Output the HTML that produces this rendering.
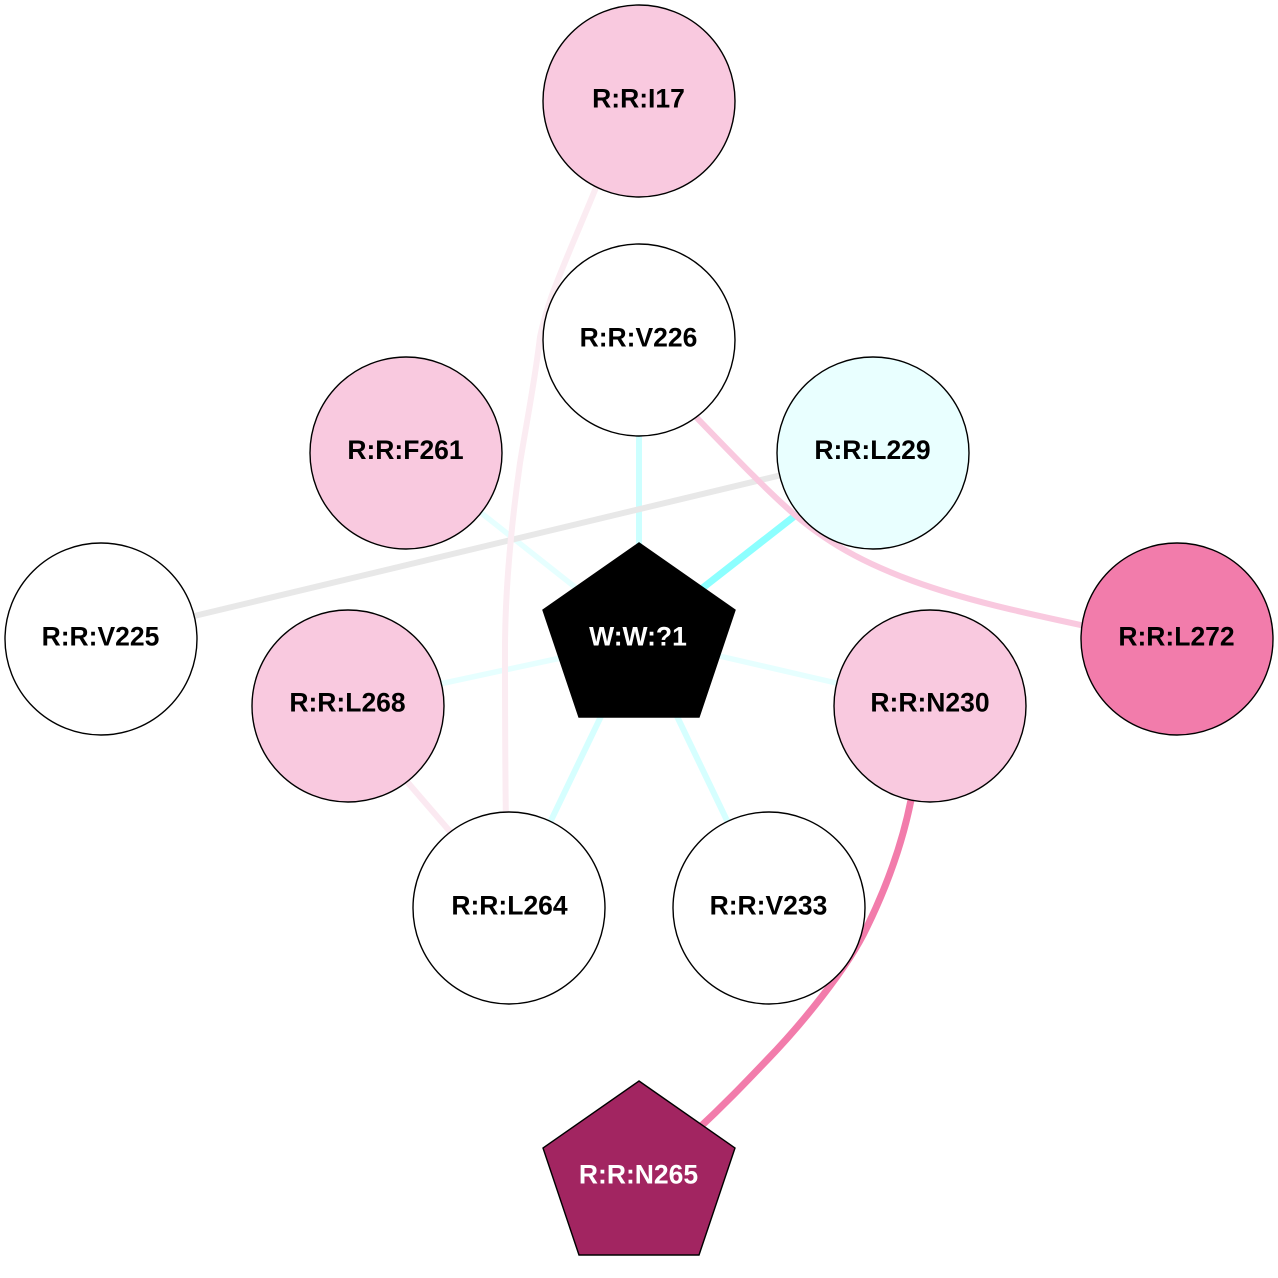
<!DOCTYPE html>
<html>
<head>
<meta charset="utf-8">
<style>
html,body{margin:0;padding:0;background:#fff;width:1278px;height:1278px;overflow:hidden}
svg{display:block}
text{font-family:"Liberation Sans",Arial,sans-serif;font-weight:bold;font-size:26.5px;text-anchor:middle}
circle,polygon{stroke:#000;stroke-width:1.4}
path{fill:none}
</style>
</head>
<body>
<svg width="1278" height="1278" viewBox="0 0 1278 1278">
<g fill="none">
<path d="M639 430 L639 550" stroke="#ccffff" stroke-width="6"/>
<path d="M810 504 L700 590" stroke="#8cffff" stroke-width="7"/>
<path d="M475 508 L585 595" stroke="#e6ffff" stroke-width="5.5"/>
<path d="M435 685 L570 656" stroke="#e6ffff" stroke-width="5.5"/>
<path d="M715 655 L845 685" stroke="#e6ffff" stroke-width="5.5"/>
<path d="M605 708 L545 833" stroke="#d6ffff" stroke-width="6"/>
<path d="M673 708 L732 831" stroke="#d6ffff" stroke-width="6"/>
<path d="M790 473 L190 617" stroke="#e8e8e8" stroke-width="6"/>
<path d="M403 777 L453 835" stroke="#fbe9f1" stroke-width="6"/>
<path d="M600 178 L595 190 C582 222 563 265 552 295 C547 310 543 322 540 337 C535 380 527 420 520 463 C512 520 505 590 505 650 C505 700 505 760 506 825" stroke="#fbecf2" stroke-width="6"/>
<path d="M690 411 L697 418 C730 452 763 487 795 515 C835 549 875 567 913 581 C968 601 1025 613 1090 627" stroke="#f9c9df" stroke-width="6"/>
<path d="M913 790 L911 800 C902 845 885 890 867 927 C848 968 800 1026 767 1060 C745 1083 725 1104 697 1130" stroke="#f27cab" stroke-width="7"/>
</g>

<circle cx="639" cy="101" r="96" fill="#f9c9df"/>
<circle cx="639" cy="340" r="96" fill="#fff"/>
<circle cx="406" cy="453" r="96" fill="#f9c9df"/>
<circle cx="873" cy="453" r="96" fill="#e9ffff"/>
<circle cx="101" cy="639" r="96" fill="#fff"/>
<circle cx="348" cy="706" r="96" fill="#f9c9df"/>
<circle cx="930" cy="706" r="96" fill="#f9c9df"/>
<circle cx="1177" cy="639" r="96" fill="#f27cab"/>
<circle cx="509" cy="908" r="96" fill="#fff"/>
<circle cx="769" cy="908" r="96" fill="#fff"/>
<polygon points="639,543 735,610 699,717 579,717 543,610" fill="#000"/>
<polygon points="639,1081 735,1148 699,1255 579,1255 543,1148" fill="#a22561"/>

<text x="638.5" y="107.5">R:R:I17</text>
<text x="638.5" y="346.5">R:R:V226</text>
<text x="405.5" y="459">R:R:F261</text>
<text x="872.5" y="459">R:R:L229</text>
<text x="100.5" y="645.5">R:R:V225</text>
<text x="347.5" y="711.5">R:R:L268</text>
<text x="930" y="711.5">R:R:N230</text>
<text x="1176.5" y="645.5">R:R:L272</text>
<text x="509.5" y="914.5">R:R:L264</text>
<text x="768.5" y="914.5">R:R:V233</text>
<text x="638" y="645.5" fill="#fff">W:W:?1</text>
<text x="638.5" y="1183.5" fill="#fff">R:R:N265</text>
</svg>
</body>
</html>
